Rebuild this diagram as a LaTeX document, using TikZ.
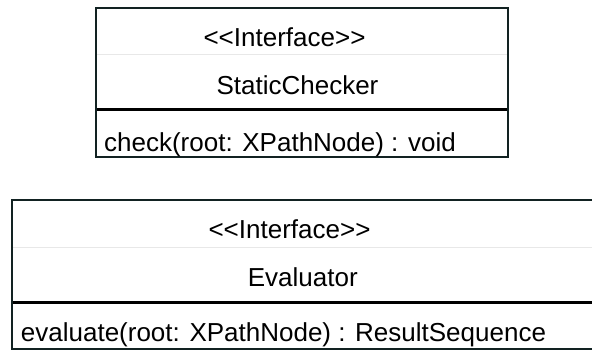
\documentclass[tikz,border=0pt]{standalone}
\usepackage{fontspec}
% a family without the TeX input mapping, so that << stays as two characters
\newfontfamily\umlfont{Liberation Sans}
\definecolor{frame}{RGB}{18,34,34}
\definecolor{rowline}{RGB}{232,232,232}
\tikzset{
  umltext/.style={inner sep=0pt, anchor=base, font=\umlfont\fontsize{26}{30}\selectfont},
  outline/.style={draw=frame, line width=2pt},
  compartment/.style={draw=black, line width=3pt},
  softrule/.style={draw=rowline, line width=1pt}
}
\begin{document}
\begin{tikzpicture}[x=1pt, y=-1pt]
\clip (0,0) rectangle (592,349);
\useasboundingbox (0,0) rectangle (592,349);
\fill[white] (0,0) rectangle (592,349);

% StaticChecker interface
\coordinate (scNW) at (96,8);
\coordinate (scSE) at (508,157);
\draw[softrule] (97,54) -- (507,54);
\draw[compartment] (96,109) -- (508,109);
\draw[outline] (scNW) rectangle (scSE);
\node[umltext] (scStereo) at (284.5,46.5) {<<Interface>>};
\node[umltext] (scName) at (297.5,94) {StaticChecker};
\node[umltext] (scOp) at (280,151) {check(root: XPathNode) : void};

% Evaluator interface
\coordinate (evNW) at (12,200);
\coordinate (evSE) at (596,349);
\draw[softrule] (13,247) -- (592,247);
\draw[compartment] (12,302) -- (596,302);
\draw[outline] (evNW) rectangle (evSE);
\node[umltext] (evStereo) at (289.5,238.3) {<<Interface>>};
\node[umltext] (evName) at (302.8,286) {Evaluator};
\node[umltext] (evOp) at (283.5,341.5) {evaluate(root: XPathNode) : ResultSequence};
\end{tikzpicture}
\end{document}
